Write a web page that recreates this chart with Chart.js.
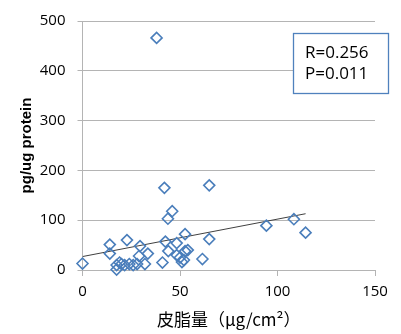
<!DOCTYPE html>
<html>
<head>
<meta charset="utf-8">
<script src="https://cdn.jsdelivr.net/npm/chart.js@4.4.1/dist/chart.umd.min.js"></script>
<style>
html,body{margin:0;padding:0;background:#fff;}
#wrap{width:401px;height:334px;position:relative;}
</style>
</head>
<body>
<div id="wrap"><canvas id="c" width="401" height="334"></canvas></div>
<script>
// Data
const sebumX = [0, 14, 14, 17.5, 17.5, 19, 20, 21.6, 22.8, 24, 26, 28, 29.5, 29, 32, 33.5, 38, 41, 42, 42.5, 43.8, 46, 44, 48.3, 48.3, 50, 51, 52, 52.6, 52.6, 54, 61.5, 65, 65, 94.3, 108.4, 114.4];
const proteinY = [13, 51, 33, 1, 10, 15, 12, 10, 60, 12, 10, 12, 48, 28, 12, 33, 466, 15, 165, 57, 103, 118, 38, 54, 30, 25, 16, 20, 72, 38, 40, 22, 170, 62, 89, 102, 75];
const trendX = [0, 114.4];
const trendY = [27, 113];
const xTicks = [0, 50, 100, 150];
const yTicks = [0, 100, 200, 300, 400, 500];
const statLines = ['R=0.256', 'P=0.011'];
const xTitle = '皮脂量（μg/cm²）';
const yTitle = 'pg/ug protein';

const points = sebumX.map((x, i) => ({x: x, y: proteinY[i]}));
const trend = trendX.map((x, i) => ({x: x, y: trendY[i]}));

const statBox = {
  id: 'statBox',
  afterDraw(chart) {
    const ctx = chart.ctx;
    ctx.save();
    ctx.fillStyle = '#ffffff';
    ctx.fillRect(293, 33, 95, 60);
    ctx.strokeStyle = '#4f81bd';
    ctx.lineWidth = 1.3;
    ctx.strokeRect(293.5, 33.5, 95, 60);
    ctx.fillStyle = '#000000';
    ctx.font = '17px "Open Sans", "Liberation Sans", sans-serif';
    ctx.textBaseline = 'middle';
    ctx.textAlign = 'left';
    ctx.fillText(statLines[0], 305, 53);
    ctx.fillText(statLines[1], 305, 74);
    ctx.restore();
  }
};

const GRID = '#b4b4b4';

new Chart(document.getElementById('c'), {
  type: 'scatter',
  data: {
    datasets: [
      {
        data: trend,
        showLine: true,
        borderColor: '#404040',
        borderWidth: 1,
        pointRadius: 0,
        pointHoverRadius: 0,
        order: 2
      },
      {
        data: points,
        clip: false,
        pointStyle: 'rectRot',
        pointRadius: 5.5,
        pointBorderWidth: 1.6,
        borderColor: '#4a7ebb',
        backgroundColor: 'rgba(255,255,255,0)',
        order: 1
      }
    ]
  },
  options: {
    responsive: false,
    animation: false,
    events: [],
    layout: {padding: {top: 17, right: 26, left: 0, bottom: 0}},
    plugins: {legend: {display: false}, tooltip: {enabled: false}},
    scales: {
      x: {
        type: 'linear',
        min: 0, max: 150,
        afterBuildTicks(s) { s.ticks = xTicks.map(v => ({value: v})); },
        afterFit(s) { s.height = 64; },
        ticks: {
          color: '#000',
          font: {family: '"Open Sans", "Liberation Sans", sans-serif', size: 15},
          padding: 7,
          maxRotation: 0
        },
        grid: {drawOnChartArea: false, drawTicks: true, tickLength: 6, color: GRID},
        border: {display: true, color: GRID, width: 1},
        title: {
          display: true,
          text: xTitle,
          color: '#000',
          font: {family: '"Noto Sans CJK JP", sans-serif', size: 17},
          padding: {top: 0, bottom: 4}
        }
      },
      y: {
        type: 'linear',
        min: 0, max: 500,
        afterBuildTicks(s) { s.ticks = yTicks.map(v => ({value: v})); },
        afterFit(s) { s.width = 82.5; },
        ticks: {
          color: '#000',
          font: {family: '"Open Sans", "Liberation Sans", sans-serif', size: 15},
          padding: 12
        },
        grid: {drawOnChartArea: true, drawTicks: true, tickLength: 5, color: GRID},
        border: {display: true, color: GRID, width: 1},
        title: {
          display: true,
          text: yTitle,
          color: '#000',
          font: {family: '"Liberation Sans", sans-serif', size: 15, weight: 'bold'},
          padding: {top: 18, bottom: 0}
        }
      }
    }
  },
  plugins: [statBox]
});
</script>
</body>
</html>
